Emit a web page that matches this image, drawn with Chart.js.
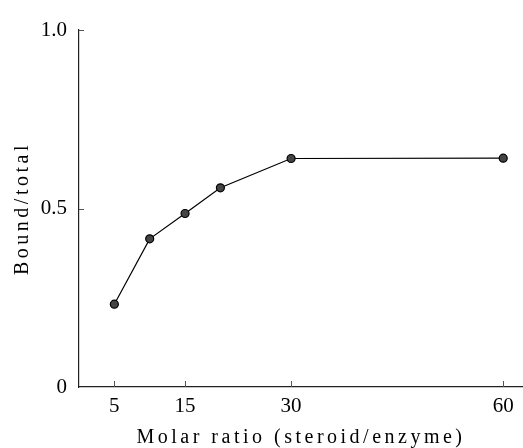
<!DOCTYPE html>
<html>
<head>
<meta charset="utf-8">
<script src="https://cdn.jsdelivr.net/npm/chart.js@4.4.1/dist/chart.umd.min.js"></script>
<style>
  body { margin: 0; background: #fff; }
  #wrap { width: 523px; height: 448px; position: relative; }
</style>
</head>
<body>
<div id="wrap"><canvas id="chart"></canvas></div>
<script>
// values
const ratios = [5, 10, 15, 20, 30, 60];
const boundTotal = [0.232, 0.415, 0.486, 0.558, 0.640, 0.641];
const xTicks = [5, 15, 30, 60];
const yTicks = [0, 0.5, 1.0];

const serif = "'Liberation Serif', 'DejaVu Serif', serif";

// spaced-out axis titles and small inward tick marks, like the printed figure
const printStyle = {
  id: 'printStyle',
  beforeDraw(chart) {
    Object.values(chart.scales).forEach(s => {
      if (s._spaced) return;
      const orig = s.drawTitle;
      s.drawTitle = function () {
        const ctx = this.ctx;
        ctx.save();
        ctx.letterSpacing = '3.5px';
        orig.apply(this, arguments);
        ctx.restore();
      };
      s._spaced = true;
    });
  },
  afterDraw(chart) {
    const ctx = chart.ctx;
    const x = chart.scales.x, y = chart.scales.y;
    ctx.save();
    ctx.strokeStyle = '#555';
    ctx.lineWidth = 1;
    ctx.beginPath();
    xTicks.forEach(v => {
      const px = Math.round(x.getPixelForValue(v)) + 0.5;
      ctx.moveTo(px, y.bottom);
      ctx.lineTo(px, y.bottom - 6);
    });
    yTicks.forEach(v => {
      if (v === 0) return;
      const py = Math.round(y.getPixelForValue(v)) + 0.5;
      ctx.moveTo(x.left, py);
      ctx.lineTo(x.left + 5, py);
    });
    ctx.stroke();
    ctx.restore();
  }
};

new Chart(document.getElementById('chart'), {
  type: 'line',
  data: {
    datasets: [{
      data: ratios.map((r, i) => ({ x: r, y: boundTotal[i] })),
      borderColor: '#000',
      borderWidth: 1.2,
      pointRadius: 4,
      pointBackgroundColor: '#444',
      pointBorderColor: '#000',
      pointBorderWidth: 1.2,
      tension: 0
    }]
  },
  options: {
    responsive: true,
    maintainAspectRatio: false,
    animation: false,
    layout: { autoPadding: false, padding: { top: 30, right: 0, left: 0, bottom: 0 } },
    plugins: { legend: { display: false }, tooltip: { enabled: false } },
    scales: {
      x: {
        type: 'linear',
        min: 0,
        max: 62.8,
        grid: { display: false },
        border: { display: true, color: '#222', width: 1.2 },
        afterBuildTicks: s => { s.ticks = xTicks.map(v => ({ value: v })); },
        afterFit: s => { s.height = 61; s.paddingLeft = 0; s.paddingRight = 0; },
        ticks: {
          autoSkip: false,
          maxRotation: 0,
          padding: -1,
          color: '#000',
          font: { family: serif, size: 21 }
        },
        title: {
          display: true,
          text: 'Molar ratio (steroid/enzyme)',
          color: '#000',
          padding: 0,
          font: { family: serif, size: 20, lineHeight: 1 }
        }
      },
      y: {
        min: 0,
        max: 1.0,
        grid: { display: false },
        border: { display: true, color: '#222', width: 1.2 },
        afterBuildTicks: s => { s.ticks = yTicks.map(v => ({ value: v })); },
        afterFit: s => { s.width = 79; s.paddingTop = 0; s.paddingBottom = 0; },
        ticks: {
          padding: 4,
          color: '#000',
          font: { family: serif, size: 21 },
          callback: v => v === 0 ? '0' : v.toFixed(1)
        },
        title: {
          display: true,
          text: 'Bound/total',
          color: '#000',
          padding: { top: 13, bottom: 0 },
          font: { family: serif, size: 20, lineHeight: 1 }
        }
      }
    }
  },
  plugins: [printStyle]
});
</script>
</body>
</html>
